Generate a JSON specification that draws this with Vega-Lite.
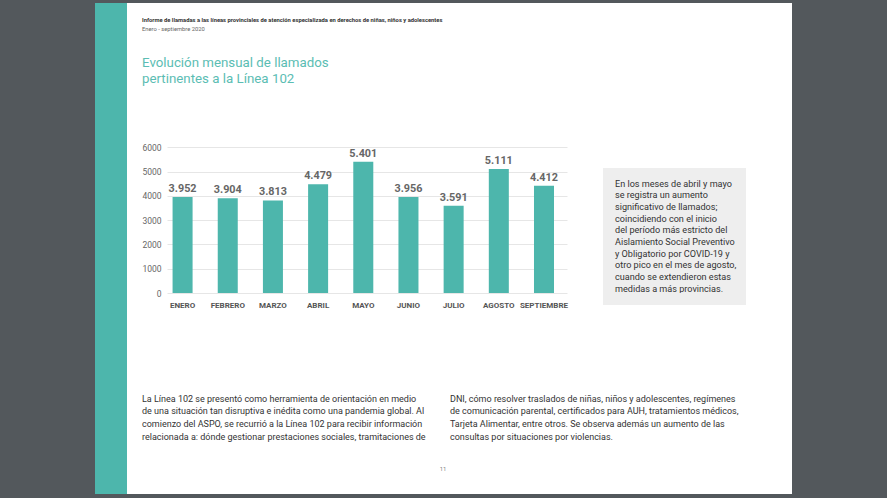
{
  "$schema": "https://vega.github.io/schema/vega-lite/v6.json",
  "padding": 0,
  "background": "#ffffff",
  "config": {
    "view": {"stroke": null},
    "font": "Roboto",
    "concat": {"spacing": 0},
    "locale": {"number": {"decimal": ",", "thousands": ".", "grouping": [3], "currency": ["$", ""]}}
  },
  "data": {"values": []},
  "spacing": 0,
  "bounds": "flush",
  "columns": 8,
  "concat": [
    {"width": 95, "height": 3, "mark": "rect", "encoding": {}, "view": {"fill": "#53585c"}},
    {"width": 32, "height": 3, "mark": "rect", "encoding": {}, "view": {"fill": "#53585c"}},
    {"width": 40, "height": 3, "mark": "rect", "encoding": {}, "view": {"fill": "#53585c"}},
    {"width": 400, "height": 3, "mark": "rect", "encoding": {}, "view": {"fill": "#53585c"}},
    {"width": 36, "height": 3, "mark": "rect", "encoding": {}, "view": {"fill": "#53585c"}},
    {"width": 143, "height": 3, "mark": "rect", "encoding": {}, "view": {"fill": "#53585c"}},
    {"width": 46, "height": 3, "mark": "rect", "encoding": {}, "view": {"fill": "#53585c"}},
    {"width": 95, "height": 3, "mark": "rect", "encoding": {}, "view": {"fill": "#53585c"}},

    {"width": 95, "height": 19, "mark": "rect", "encoding": {}, "view": {"fill": "#53585c"}},
    {"width": 32, "height": 19, "mark": "rect", "encoding": {}, "view": {"fill": "#4db6ac"}},
    {"width": 40, "height": 19, "mark": "rect", "encoding": {},
     "title": {"text": "Informe de llamadas a las líneas provinciales de atención especializada en derechos de niñas, niños y adolescentes", "orient": "bottom", "anchor": "start", "frame": "group", "offset": 0, "dx": 15, "baseline": "alphabetic", "font": "Roboto", "fontSize": 5.8, "fontWeight": "bold", "color": "#333333"}},
    {"width": 400, "height": 19, "mark": "rect", "encoding": {}},
    {"width": 36, "height": 19, "mark": "rect", "encoding": {}},
    {"width": 143, "height": 19, "mark": "rect", "encoding": {}},
    {"width": 46, "height": 19, "mark": "rect", "encoding": {}},
    {"width": 95, "height": 19, "mark": "rect", "encoding": {}, "view": {"fill": "#53585c"}},

    {"width": 95, "height": 8, "mark": "rect", "encoding": {}, "view": {"fill": "#53585c"}},
    {"width": 32, "height": 8, "mark": "rect", "encoding": {}, "view": {"fill": "#4db6ac"}},
    {"width": 40, "height": 8, "mark": "rect", "encoding": {},
     "title": {"text": "Enero - septiembre 2020", "orient": "bottom", "anchor": "start", "frame": "group", "offset": 0.5, "dx": 15, "baseline": "alphabetic", "font": "Roboto", "fontSize": 5.8, "fontWeight": "normal", "color": "#666666"}},
    {"width": 400, "height": 8, "mark": "rect", "encoding": {}},
    {"width": 36, "height": 8, "mark": "rect", "encoding": {}},
    {"width": 143, "height": 8, "mark": "rect", "encoding": {}},
    {"width": 46, "height": 8, "mark": "rect", "encoding": {}},
    {"width": 95, "height": 8, "mark": "rect", "encoding": {}, "view": {"fill": "#53585c"}},

    {"width": 95, "height": 37, "mark": "rect", "encoding": {}, "view": {"fill": "#53585c"}},
    {"width": 32, "height": 37, "mark": "rect", "encoding": {}, "view": {"fill": "#4db6ac"}},
    {"width": 40, "height": 37, "mark": "rect", "encoding": {},
     "title": {"text": ["Evolución mensual de llamados", "pertinentes a la Línea 102"], "orient": "bottom", "anchor": "start", "frame": "group", "offset": 0, "dx": 15, "baseline": "alphabetic", "font": "Roboto", "fontSize": 13.3, "lineHeight": 16, "fontWeight": "normal", "color": "#5bbdb3"}},
    {"width": 400, "height": 37, "mark": "rect", "encoding": {}},
    {"width": 36, "height": 37, "mark": "rect", "encoding": {}},
    {"width": 143, "height": 37, "mark": "rect", "encoding": {}},
    {"width": 46, "height": 37, "mark": "rect", "encoding": {}},
    {"width": 95, "height": 37, "mark": "rect", "encoding": {}, "view": {"fill": "#53585c"}},

    {"width": 95, "height": 101, "mark": "rect", "encoding": {}, "view": {"fill": "#53585c"}},
    {"width": 32, "height": 101, "mark": "rect", "encoding": {}, "view": {"fill": "#4db6ac"}},
    {"width": 40, "height": 101, "mark": "rect", "encoding": {}},
    {"width": 400, "height": 101, "mark": "rect", "encoding": {}},
    {"width": 36, "height": 101, "mark": "rect", "encoding": {}},
    {"width": 143, "height": 101, "mark": "rect", "encoding": {}},
    {"width": 46, "height": 101, "mark": "rect", "encoding": {}},
    {"width": 95, "height": 101, "mark": "rect", "encoding": {}, "view": {"fill": "#53585c"}},

    {"width": 95, "height": 125, "mark": "rect", "encoding": {}, "view": {"fill": "#53585c"}},
    {"width": 32, "height": 125, "mark": "rect", "encoding": {}, "view": {"fill": "#4db6ac"}},
    {"width": 40, "height": 125, "mark": "rect", "encoding": {}},
    {
      "width": 400, "height": 125,
      "data": {"values": [
        {"mes": "ENERO", "llamados": 3952},
        {"mes": "FEBRERO", "llamados": 3904},
        {"mes": "MARZO", "llamados": 3813},
        {"mes": "ABRIL", "llamados": 4479},
        {"mes": "MAYO", "llamados": 5401},
        {"mes": "JUNIO", "llamados": 3956},
        {"mes": "JULIO", "llamados": 3591},
        {"mes": "AGOSTO", "llamados": 5111},
        {"mes": "SEPTIEMBRE", "llamados": 4412}
      ]},
      "encoding": {
        "x": {"field": "mes", "type": "nominal", "sort": null,
              "scale": {"paddingInner": 0.557, "paddingOuter": 0.2055, "align": 0.3},
              "axis": {"title": null, "labelAngle": 0, "ticks": false, "domain": false, "grid": false,
                       "labelFont": "Liberation Sans Narrow, Roboto", "labelFontSize": 8, "labelFontWeight": "bold",
                       "labelColor": "#555555", "labelPadding": 8}},
        "y": {"field": "llamados", "type": "quantitative", "scale": {"domain": [0, 6000], "range": [125, -20.7]},
              "axis": {"title": null, "values": [0, 1000, 2000, 3000, 4000, 5000, 6000], "format": "d",
                       "ticks": false, "domain": false, "labelColor": "#666666", "labelFont": "Roboto",
                       "labelFontSize": 8.5, "labelPadding": 6, "gridColor": "#e6e6e6"}}
      },
      "layer": [
        {"mark": {"type": "bar", "color": "#4db6ac"}},
        {"mark": {"type": "text", "baseline": "alphabetic", "dy": -5, "font": "Roboto", "fontWeight": "bold", "fontSize": 10.8, "color": "#666666"},
         "encoding": {"text": {"field": "llamados", "type": "quantitative", "format": ",d"}}}
      ]
    },
    {"width": 36, "height": 125, "mark": "rect", "encoding": {}},
    {"width": 143, "height": 125, "mark": "rect", "encoding": {}, "view": {"fill": "#eeeeee"},
     "title": {"text": ["En los meses de abril y mayo", "se registra un aumento", "significativo de llamados;", "coincidiendo con el inicio", "del período más estricto del", "Aislamiento Social Preventivo", "y Obligatorio por COVID-19 y", "otro pico en el mes de agosto,", "cuando se extendieron estas", "medidas a más provincias."],
               "orient": "bottom", "anchor": "start", "frame": "group", "offset": -106.3, "dx": 12, "baseline": "alphabetic", "font": "Roboto", "fontSize": 9.1, "lineHeight": 11.65, "fontWeight": "normal", "color": "#333333"}},
    {"width": 46, "height": 125, "mark": "rect", "encoding": {}},
    {"width": 95, "height": 125, "mark": "rect", "encoding": {}, "view": {"fill": "#53585c"}},

    {"width": 95, "height": 12, "mark": "rect", "encoding": {}, "view": {"fill": "#53585c"}},
    {"width": 32, "height": 12, "mark": "rect", "encoding": {}, "view": {"fill": "#4db6ac"}},
    {"width": 40, "height": 12, "mark": "rect", "encoding": {}},
    {"width": 400, "height": 12, "mark": "rect", "encoding": {}},
    {"width": 36, "height": 12, "mark": "rect", "encoding": {}},
    {"width": 143, "height": 12, "mark": "rect", "encoding": {}, "view": {"fill": "#eeeeee"}},
    {"width": 46, "height": 12, "mark": "rect", "encoding": {}},
    {"width": 95, "height": 12, "mark": "rect", "encoding": {}, "view": {"fill": "#53585c"}},

    {"width": 95, "height": 96, "mark": "rect", "encoding": {}, "view": {"fill": "#53585c"}},
    {"width": 32, "height": 96, "mark": "rect", "encoding": {}, "view": {"fill": "#4db6ac"}},
    {"width": 40, "height": 96, "mark": "rect", "encoding": {},
     "title": {"text": ["La Línea 102 se presentó como herramienta de orientación en medio", "de una situación tan disruptiva e inédita como una pandemia global. Al", "comienzo del ASPO, se recurrió a la Línea 102 para recibir información", "relacionada a: dónde gestionar prestaciones sociales, tramitaciones de"],
               "orient": "bottom", "anchor": "start", "frame": "group", "offset": 0.8, "dx": 15, "baseline": "alphabetic", "font": "Roboto", "fontSize": 9, "lineHeight": 12.6, "fontWeight": "normal", "color": "#333333"}},
    {"width": 400, "height": 96, "mark": "rect", "encoding": {},
     "title": {"text": ["DNI, cómo resolver traslados de niñas, niños y adolescentes, regímenes", "de comunicación parental, certificados para AUH, tratamientos médicos,", "Tarjeta Alimentar, entre otros. Se observa además un aumento de las", "consultas por situaciones por violencias."],
               "orient": "bottom", "anchor": "start", "frame": "group", "offset": 0.8, "dx": 283, "baseline": "alphabetic", "font": "Roboto", "fontSize": 9, "lineHeight": 12.6, "fontWeight": "normal", "color": "#333333"}},
    {"width": 36, "height": 96, "mark": "rect", "encoding": {}},
    {"width": 143, "height": 96, "mark": "rect", "encoding": {}},
    {"width": 46, "height": 96, "mark": "rect", "encoding": {}},
    {"width": 95, "height": 96, "mark": "rect", "encoding": {}, "view": {"fill": "#53585c"}},

    {"width": 95, "height": 71, "mark": "rect", "encoding": {}, "view": {"fill": "#53585c"}},
    {"width": 32, "height": 71, "mark": "rect", "encoding": {}, "view": {"fill": "#4db6ac"}},
    {"width": 40, "height": 71, "mark": "rect", "encoding": {}},
    {"width": 400, "height": 71, "mark": "rect", "encoding": {},
     "title": {"text": "11", "orient": "bottom", "anchor": "middle", "frame": "group", "offset": -1, "dx": 76, "baseline": "alphabetic", "font": "Roboto", "fontSize": 6, "fontWeight": "normal", "color": "#888888"}},
    {"width": 36, "height": 71, "mark": "rect", "encoding": {}},
    {"width": 143, "height": 71, "mark": "rect", "encoding": {}},
    {"width": 46, "height": 71, "mark": "rect", "encoding": {}},
    {"width": 95, "height": 71, "mark": "rect", "encoding": {}, "view": {"fill": "#53585c"}},

    {"width": 95, "height": 22, "mark": "rect", "encoding": {}, "view": {"fill": "#53585c"}},
    {"width": 32, "height": 22, "mark": "rect", "encoding": {}, "view": {"fill": "#4db6ac"}},
    {"width": 40, "height": 22, "mark": "rect", "encoding": {}},
    {"width": 400, "height": 22, "mark": "rect", "encoding": {}},
    {"width": 36, "height": 22, "mark": "rect", "encoding": {}},
    {"width": 143, "height": 22, "mark": "rect", "encoding": {}},
    {"width": 46, "height": 22, "mark": "rect", "encoding": {}},
    {"width": 95, "height": 22, "mark": "rect", "encoding": {}, "view": {"fill": "#53585c"}},

    {"width": 95, "height": 4, "mark": "rect", "encoding": {}, "view": {"fill": "#53585c"}},
    {"width": 32, "height": 4, "mark": "rect", "encoding": {}, "view": {"fill": "#53585c"}},
    {"width": 40, "height": 4, "mark": "rect", "encoding": {}, "view": {"fill": "#53585c"}},
    {"width": 400, "height": 4, "mark": "rect", "encoding": {}, "view": {"fill": "#53585c"}},
    {"width": 36, "height": 4, "mark": "rect", "encoding": {}, "view": {"fill": "#53585c"}},
    {"width": 143, "height": 4, "mark": "rect", "encoding": {}, "view": {"fill": "#53585c"}},
    {"width": 46, "height": 4, "mark": "rect", "encoding": {}, "view": {"fill": "#53585c"}},
    {"width": 95, "height": 4, "mark": "rect", "encoding": {}, "view": {"fill": "#53585c"}}
  ]
}
